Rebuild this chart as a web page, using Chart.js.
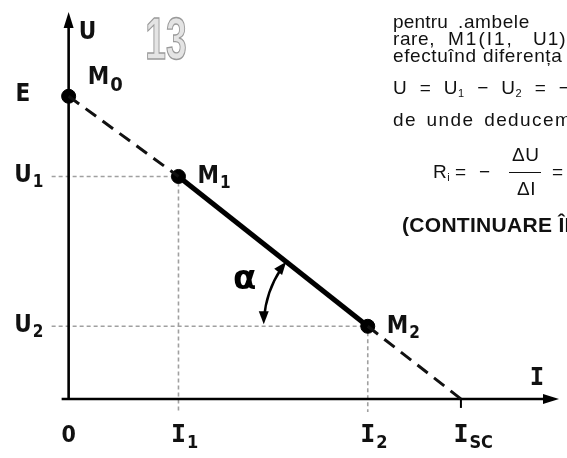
<!DOCTYPE html>
<html>
<head>
<meta charset="utf-8">
<title>Caracteristica U-I a sursei</title>
<script src="https://cdn.jsdelivr.net/npm/chart.js@4.4.0/dist/chart.umd.min.js"></script>
<style>
body{margin:0;background:#fff;}
#wrap{position:relative;width:567px;height:458px;overflow:hidden;}
#c{position:absolute;left:0;top:0;}
.t{position:absolute;font-family:"Liberation Sans",Arial,sans-serif;font-size:19px;line-height:20px;color:#111;white-space:nowrap;letter-spacing:0.6px;}
.t sub{font-size:11px;vertical-align:-3px;line-height:0;}
.b{font-weight:bold;font-size:21px;letter-spacing:0.3px;}
</style>
</head>
<body>
<div id="wrap">
<canvas id="c" width="567" height="458"></canvas>
<div class="t" style="left:393px;top:12px;letter-spacing:0.2px">pentru</div>
<div class="t" style="left:458px;top:12px">.ambele</div>
<div class="t" style="left:393px;top:29px">rare,</div>
<div class="t" style="left:448px;top:29px;letter-spacing:2px">M1(I1,</div>
<div class="t" style="left:533px;top:29px;letter-spacing:1px">U1)</div>
<div class="t" style="left:393px;top:46px">efectuînd</div>
<div class="t" style="left:483px;top:46px">diferența</div>
<div class="t" style="left:393px;top:78px;word-spacing:6.5px">U = U<sub>1</sub> − U<sub>2</sub> = −</div>
<div class="t" style="left:393px;top:110px;letter-spacing:1.4px;word-spacing:3px">de unde deducem</div>
<div class="t" style="left:433px;top:162px">R<sub>i</sub></div>
<div class="t" style="left:455px;top:162px">=</div>
<div class="t" style="left:479px;top:162px">−</div>
<div class="t" style="left:512px;top:145px">ΔU</div>
<div style="position:absolute;left:509px;top:172px;width:32px;height:0;border-top:1.5px solid #111"></div>
<div class="t" style="left:517px;top:179px">ΔI</div>
<div class="t" style="left:552px;top:162px">=</div>
<div class="t b" style="left:402px;top:215px">(CONTINUARE ÎN</div>
</div>
<script>
// values (arbitrary units)
var tickLabels = ['0', 'I1', 'I2', 'ISC'];
var currents = [0, 1.12, 3.05, 4.0];      // 0, I1, I2, Isc
var voltLabels = ['E', 'U1', 'U2'];
var voltages = [4.0, 2.94, 0.96];          // E, U1, U2
var pointLabels = ['M0', 'M1', 'M2'];

var pts = [
  {x: currents[0], y: voltages[0]},
  {x: currents[1], y: voltages[1]},
  {x: currents[2], y: voltages[2]}
];
var scPoint = {x: currents[3], y: 0};

var LF = '"DejaVu Sans Condensed","DejaVu Sans",sans-serif';
var MONO = '"DejaVu Sans Mono",monospace';

function lbl(ctx, text, x, y, size, center, mono, subScale) {
  var main = text.charAt(0), sub = text.slice(1);
  ctx.font = 'bold ' + size + 'px ' + (mono ? MONO : LF);
  var w = ctx.measureText(main).width;
  var x0 = center ? x - w / 2 : x;
  ctx.textAlign = 'left';
  ctx.textBaseline = 'middle';
  ctx.fillText(main, x0, y);
  if (sub) {
    ctx.font = 'bold ' + Math.round(size * (subScale || 0.7)) + 'px ' + LF;
    ctx.fillText(sub, x0 + w + 1, y + size * 0.3);
  }
}

function arrowHead(ctx, x, y, ang, len, half) {
  ctx.save();
  ctx.translate(x, y);
  ctx.rotate(ang);
  ctx.beginPath();
  ctx.moveTo(0, 0);
  ctx.lineTo(-len, -half);
  ctx.lineTo(-len, half);
  ctx.closePath();
  ctx.fill();
  ctx.restore();
}

var decor = {
  id: 'decor',
  beforeDatasetsDraw: function (chart) {
    var ctx = chart.ctx, xs = chart.scales.x, ys = chart.scales.y;
    var x0 = xs.getPixelForValue(0), y0 = ys.getPixelForValue(0);
    ctx.save();
    // dotted guide lines
    ctx.strokeStyle = '#a0a0a0';
    ctx.lineWidth = 1.6;
    ctx.setLineDash([4, 3]);
    for (var i = 1; i < pts.length; i++) {
      var px = xs.getPixelForValue(pts[i].x), py = ys.getPixelForValue(pts[i].y);
      ctx.beginPath();
      ctx.moveTo(x0 - 17, py); ctx.lineTo(px - 6, py);
      ctx.moveTo(px, py + 6); ctx.lineTo(px, y0 + 13);
      ctx.stroke();
    }
    ctx.setLineDash([]);
    // axes with arrows
    ctx.strokeStyle = '#000';
    ctx.fillStyle = '#000';
    ctx.lineWidth = 2.6;
    ctx.beginPath();
    ctx.moveTo(x0 - 7, y0); ctx.lineTo(chart.chartArea.right - 10, y0);
    ctx.moveTo(x0, y0); ctx.lineTo(x0, chart.chartArea.top + 12);
    ctx.stroke();
    arrowHead(ctx, chart.chartArea.right, y0, 0, 16, 5);
    arrowHead(ctx, x0, chart.chartArea.top + 2, -Math.PI / 2, 16, 5);
    // Isc tick
    var xsc = xs.getPixelForValue(scPoint.x);
    ctx.lineWidth = 2;
    ctx.beginPath(); ctx.moveTo(xsc, y0); ctx.lineTo(xsc, y0 + 9); ctx.stroke();
    ctx.restore();
  },
  afterDatasetsDraw: function (chart) {
    var ctx = chart.ctx, xs = chart.scales.x, ys = chart.scales.y;
    var x0 = xs.getPixelForValue(0), y0 = ys.getPixelForValue(0);
    ctx.save();
    ctx.fillStyle = '#111';
    // x tick labels
    tickLabels.forEach(function (t, i) {
      lbl(ctx, t, xs.getPixelForValue(currents[i]), y0 + 37, t === '0' ? 23 : 25, true, t !== '0');
    });
    // y tick labels
    voltLabels.forEach(function (t, i) {
      lbl(ctx, t, 23, ys.getPixelForValue(voltages[i]) - 1, 24, true, false);
    });
    // point names
    pointLabels.forEach(function (t, i) {
      var px = xs.getPixelForValue(pts[i].x), py = ys.getPixelForValue(pts[i].y);
      lbl(ctx, t, px + 19, py - (i === 0 ? 18 : 0), 24, false, false, i === 0 ? 0.85 : 0.7);
    });
    // axis names
    lbl(ctx, 'U', x0 + 10, chart.chartArea.top + 23, 24, false, false);
    lbl(ctx, 'I', chart.chartArea.right - 22, y0 - 20, 24, true, true);
    // angle alpha between the characteristic and the horizontal through M2
    var m1x = xs.getPixelForValue(pts[1].x), m1y = ys.getPixelForValue(pts[1].y);
    var m2x = xs.getPixelForValue(pts[2].x), m2y = ys.getPixelForValue(pts[2].y);
    var a = Math.atan2(m1y - m2y, m1x - m2x);
    if (a < 0) a += 2 * Math.PI;
    var r = 104;
    ctx.strokeStyle = '#000';
    ctx.fillStyle = '#000';
    ctx.lineWidth = 2.4;
    ctx.beginPath();
    ctx.arc(m2x, m2y, r, Math.PI + 0.07, a - 0.08);
    ctx.stroke();
    arrowHead(ctx, m2x + r * Math.cos(a), m2y + r * Math.sin(a), a + Math.PI / 2, 13, 5);
    arrowHead(ctx, m2x - r, m2y - 2, Math.PI / 2, 13, 5);
    ctx.font = 'bold 34px "DejaVu Sans",sans-serif';
    ctx.textAlign = 'center';
    ctx.textBaseline = 'middle';
    ctx.fillText('α', m2x - 123, m2y - 46);
    // page number
    ctx.save();
    ctx.translate(166, 40);
    ctx.scale(0.62, 1);
    ctx.font = 'bold 60px "Liberation Sans",sans-serif';
    ctx.fillStyle = '#e4e4e4';
    ctx.strokeStyle = '#9a9a9a';
    ctx.lineWidth = 1.4;
    ctx.fillText('13', 0, 2);
    ctx.strokeText('13', 0, 2);
    ctx.restore();
    ctx.restore();
  }
};

new Chart(document.getElementById('c').getContext('2d'), {
  type: 'scatter',
  data: {
    datasets: [
      {data: [pts[0], pts[1]], showLine: true, borderColor: '#111', borderWidth: 3, borderDash: [13, 8], pointRadius: 0},
      {data: [pts[2], scPoint], showLine: true, borderColor: '#111', borderWidth: 3, borderDash: [13, 8], pointRadius: 0},
      {data: [pts[1], pts[2]], showLine: true, borderColor: '#000', borderWidth: 5, pointRadius: 0},
      {data: pts, showLine: false, pointRadius: 7, backgroundColor: '#000', borderColor: '#000'}
    ]
  },
  options: {
    responsive: false,
    animation: false,
    layout: {padding: {left: 50, top: 10, right: 0, bottom: 0}},
    plugins: {legend: {display: false}, tooltip: {enabled: false}},
    scales: {
      x: {type: 'linear', display: false, min: -0.19, max: 5.0},
      y: {type: 'linear', display: false, min: -0.675, max: 5.14}
    }
  },
  plugins: [decor]
});
</script>
</body>
</html>
